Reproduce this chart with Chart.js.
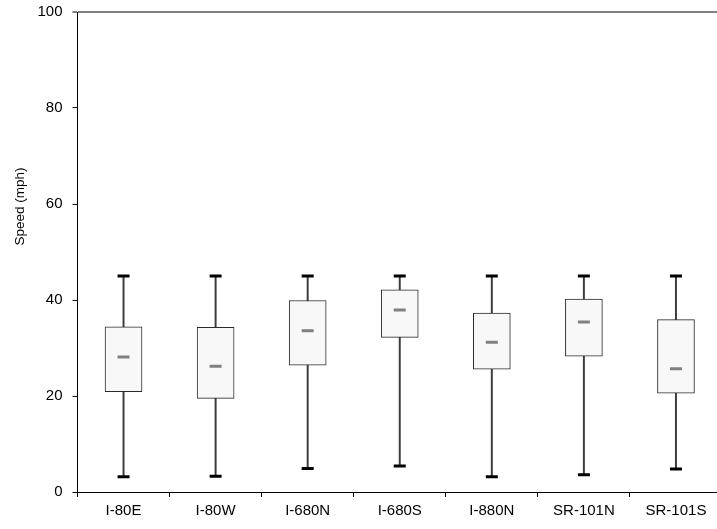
<!DOCTYPE html>
<html>
<head>
<meta charset="utf-8">
<script src="https://cdn.jsdelivr.net/npm/chart.js@4/dist/chart.umd.min.js"></script>
<style>
  html, body { margin: 0; padding: 0; background: #fff; overflow: hidden; }
  #wrap { width: 717px; height: 529px; overflow: hidden; }
  #box { width: 731px; height: 529px; position: relative; }
</style>
</head>
<body>
<div id="wrap"><div id="box"><canvas id="myChart"></canvas></div></div>
<script>
const routes = ["I-80E", "I-80W", "I-680N", "I-680S", "I-880N", "SR-101N", "SR-101S"];
const low = [3.2, 3.3, 4.9, 5.4, 3.2, 3.6, 4.8];
const q1 = [20.9, 19.5, 26.4, 32.2, 25.6, 28.3, 20.6];
const median = [28.1, 26.2, 33.6, 37.9, 31.2, 35.4, 25.7];
const q3 = [34.4, 34.3, 39.9, 42.1, 37.3, 40.2, 35.9];
const high = [45, 45, 45, 45, 45, 45, 45];
const yTicks = [0, 20, 40, 60, 80, 100];

document.addEventListener("DOMContentLoaded", function () {
  Chart.defaults.font.family = "'Liberation Sans', Arial, sans-serif";
  Chart.defaults.color = "#000";

  const yTitle = {
    id: "yTitle",
    afterDraw(chart) {
      const ctx = chart.ctx;
      const area = chart.chartArea;
      ctx.save();
      ctx.translate(20, area.top + (area.bottom - area.top) * 0.405);
      ctx.rotate(-Math.PI / 2);
      ctx.font = "13.5px 'Liberation Sans', Arial, sans-serif";
      ctx.fillStyle = "#000";
      ctx.textAlign = "center";
      ctx.textBaseline = "middle";
      ctx.fillText("Speed (mph)", 0, 0);
      ctx.restore();
    },
  };

  new Chart(document.getElementById("myChart"), {
    type: "bar",
    data: {
      labels: routes,
      datasets: [
        {
          label: "whisker",
          data: routes.map((r, i) => [low[i], high[i]]),
          backgroundColor: "#3c3c3c",
          barThickness: 1.3,
          grouped: false,
          order: 3,
        },
        {
          label: "box",
          data: routes.map((r, i) => [q1[i], q3[i]]),
          backgroundColor: "#f8f8f8",
          borderColor: "#2a2a2a",
          borderWidth: 1,
          borderSkipped: false,
          barThickness: 37,
          grouped: false,
          order: 2,
        },
        {
          type: "line",
          label: "median",
          data: median,
          showLine: false,
          pointStyle: "line",
          pointRadius: 6,
          pointBorderWidth: 3,
          pointBorderColor: "#808080",
          order: 1,
        },
        {
          type: "line",
          label: "max",
          data: high,
          showLine: false,
          pointStyle: "line",
          pointRadius: 6,
          pointBorderWidth: 3,
          pointBorderColor: "#000",
          order: 1,
        },
        {
          type: "line",
          label: "min",
          data: low,
          showLine: false,
          pointStyle: "line",
          pointRadius: 6,
          pointBorderWidth: 3,
          pointBorderColor: "#000",
          order: 1,
        },
      ],
    },
    options: {
      responsive: true,
      maintainAspectRatio: false,
      animation: false,
      layout: { padding: { top: 12, right: 0, bottom: 0, left: 0 } },
      plugins: {
        legend: { display: false },
        tooltip: { enabled: false },
      },
      scales: {
        x: {
          offset: true,
          border: { color: "#000", width: 1 },
          grid: {
            offset: true,
            drawOnChartArea: false,
            tickLength: 5,
            tickColor: "#000",
          },
          ticks: {
            font: { size: 15 },
            padding: 5,
            maxRotation: 0,
            autoSkip: false,
          },
          afterFit(scale) {
            scale.height = 37;
            scale.paddingLeft = 0;
            scale.paddingRight = 0;
          },
        },
        y: {
          min: 0,
          max: 100,
          border: { color: "#000", width: 1 },
          grid: {
            drawOnChartArea: true,
            tickLength: 5,
            color: (c) => (c.tick && c.tick.value === 100 ? "#808080" : "transparent"),
            tickColor: (c) => (c.tick && c.tick.value === 100 ? "#808080" : "#000"),
            lineWidth: (c) => (c.tick && c.tick.value === 100 ? 2 : 1),
          },
          afterBuildTicks(scale) {
            scale.ticks = yTicks.map((v) => ({ value: v }));
          },
          ticks: {
            font: { size: 15 },
            padding: 10,
          },
          afterFit(scale) {
            scale.width = 77.5;
            scale.paddingTop = 0;
            scale.paddingBottom = 0;
          },
        },
      },
    },
    plugins: [yTitle],
  });
});
</script>
</body>
</html>
